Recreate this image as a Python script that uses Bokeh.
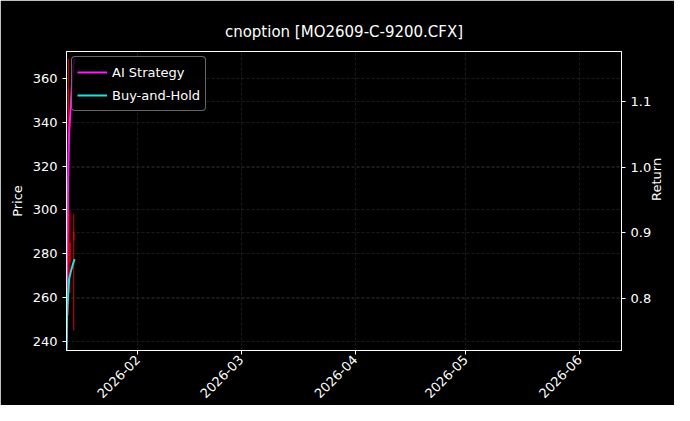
from math import pi

import pandas as pd
from bokeh.embed import file_html
from bokeh.models import (DatetimeTickFormatter, FixedTicker, Grid, LinearAxis,
                          PrintfTickFormatter, Range1d, SingleIntervalTicker)
from bokeh.plotting import figure
from bokeh.resources import INLINE

# ---- data ----
curve_times = ["2026-01-12 14:00", "2026-01-12 18:00", "2026-01-12 23:00",
               "2026-01-13 07:00", "2026-01-13 19:00", "2026-01-14 05:00",
               "2026-01-14 14:00", "2026-01-14 19:00"]
ai_strategy = [0.725, 0.85, 0.96, 1.05, 1.10, 1.14, 1.16, 1.165]
buy_and_hold = [0.72, 0.78, 0.80, 0.83, 0.842, 0.85, 0.857, 0.86]

candle_times = ["2026-01-13 02:00", "2026-01-13 12:00", "2026-01-14 13:00"]
candle_open = [300, 285, 286]
candle_close = [355, 276, 290]
candle_high = [369, 300, 298]
candle_low = [252, 262, 245]

month_ticks = ["2026-02-01", "2026-03-01", "2026-04-01", "2026-05-01", "2026-06-01"]

x_start = pd.Timestamp("2026-01-12 14:00")
x_end = pd.Timestamp("2026-06-12 08:00")

ct = pd.to_datetime(curve_times)
kt = pd.to_datetime(candle_times)

p = figure(
    width=674, height=405,
    x_axis_type="datetime",
    x_range=Range1d(x_start, x_end),
    y_range=Range1d(235.9, 372.3),
    title="cnoption [MO2609-C-9200.CFX]",
    toolbar_location=None, tools="",
    output_backend="svg",
    min_border_left=66, min_border_right=45,
    min_border_top=51, min_border_bottom=54,
)
p.extra_y_ranges = {"ret": Range1d(0.721, 1.176)}

bg = "#000000"
fg = "#ffffff"
p.background_fill_color = bg
p.border_fill_color = bg
p.outline_line_color = fg
p.outline_line_width = 1

p.title.text_color = fg
p.title.text_font = "DejaVu Sans"
p.title.text_font_size = "15px"
p.title.text_font_style = "normal"
p.title.align = "center"
p.title.standoff = 22

# candles (price axis)
p.segment(x0=kt, y0=candle_low, x1=kt, y1=candle_high, color="#e00000", line_width=1)
p.vbar(x=kt, width=3 * 3600 * 1000,
       top=[max(o, c) for o, c in zip(candle_open, candle_close)],
       bottom=[min(o, c) for o, c in zip(candle_open, candle_close)],
       fill_color="#e00000", line_color="#e00000")

# return curves
p.line(ct, ai_strategy, y_range_name="ret", color="#ff1aff", line_width=2,
       legend_label="AI Strategy")
p.line(ct, buy_and_hold, y_range_name="ret", color="#22e0e0", line_width=2,
       legend_label="Buy-and-Hold")

right = LinearAxis(y_range_name="ret", axis_label="Return",
                   ticker=SingleIntervalTicker(interval=0.1),
                   formatter=PrintfTickFormatter(format="%.1f"))
right.axis_label_orientation = pi / 2
right.axis_label_standoff = 2
p.add_layout(right, "right")

p.yaxis[0].ticker = SingleIntervalTicker(interval=20)
p.yaxis[0].axis_label = "Price"

p.xaxis.ticker = FixedTicker(ticks=[pd.Timestamp(m).value / 1e6 for m in month_ticks])
p.xaxis.formatter = DatetimeTickFormatter(days="%Y-%m", months="%Y-%m")
p.xaxis.major_label_orientation = pi / 4
p.xaxis.major_label_standoff = 3

for ax in p.axis:
    ax.axis_line_color = fg
    ax.major_tick_line_color = fg
    ax.minor_tick_line_color = None
    ax.major_tick_out = 4
    ax.major_tick_in = 0
    ax.major_label_text_color = fg
    ax.major_label_text_font = "DejaVu Sans"
    ax.major_label_text_font_size = "13px"
    ax.axis_label_text_color = fg
    ax.axis_label_text_font = "DejaVu Sans"
    ax.axis_label_text_font_size = "13px"
    ax.axis_label_text_font_style = "normal"

p.grid.grid_line_color = "#888888"
p.grid.grid_line_alpha = 0.4
p.grid.grid_line_dash = "3 2"
p.grid.grid_line_width = 0.5
p.add_layout(Grid(dimension=1, ticker=right.ticker, y_range_name="ret",
                  grid_line_color="#888888", grid_line_alpha=0.4,
                  grid_line_dash="3 2", grid_line_width=0.5))

p.legend.location = "top_left"
p.legend.background_fill_color = bg
p.legend.background_fill_alpha = 0.8
p.legend.border_line_color = "#cccccc"
p.legend.border_radius = 4
p.legend.label_text_color = fg
p.legend.label_text_font = "DejaVu Sans"
p.legend.label_text_font_size = "13px"
p.legend.glyph_width = 30
p.legend.label_height = 18
p.legend.spacing = 3
p.legend.padding = 5
p.legend.margin = 5

open("out.html", "w").write(file_html(p, INLINE))
